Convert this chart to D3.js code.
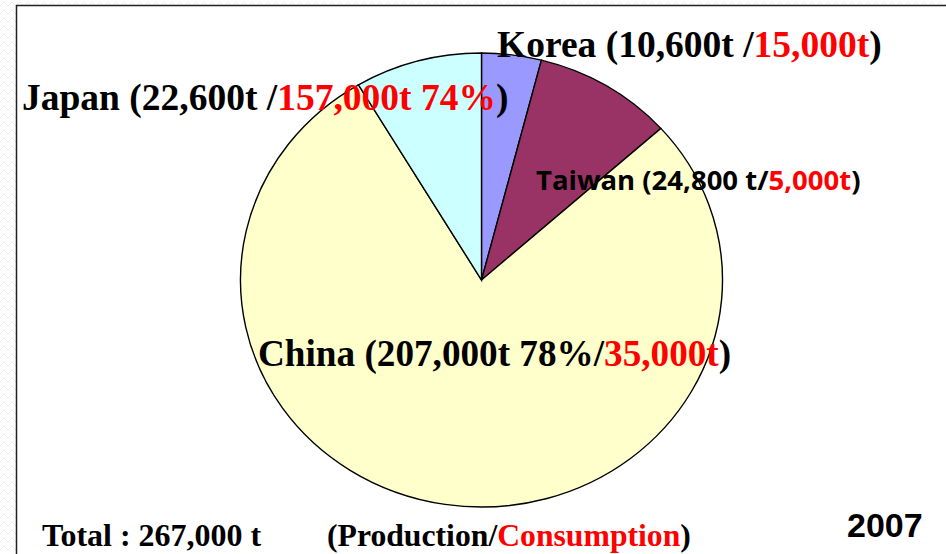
<!DOCTYPE html>
<html>
<head>
<meta charset="utf-8">
<script src="https://cdn.jsdelivr.net/npm/d3@7"></script>
<style>
  html, body { margin: 0; padding: 0; background: #fff; }
  svg { display: block; }
</style>
</head>
<body>
<svg id="chart" width="946" height="554"></svg>
<script>
// Production and consumption by country, 2007 (tonnes)
const countries   = ["Korea", "Taiwan", "China", "Japan"];
const production  = [10600, 24800, 207000, 22600];
const consumption = [15000, 5000, 35000, 157000];
const prodSuffix  = ["t /", " t/", "t 78%/", "t /"];
const consSuffix  = ["t", "t", "t", "t 74%"];
const colors      = ["#9999FF", "#993366", "#FFFFCC", "#CCFFFF"];
const totalLabel  = "Total : 267,000 t";
const yearLabel   = "2007";

const W = 946, H = 554;
const svg = d3.select("#chart");
const fmt = d3.format(",");

// faint zigzag texture outside the frame
const defs = svg.append("defs");
const pat = defs.append("pattern")
  .attr("id", "zig").attr("width", 8).attr("height", 8)
  .attr("patternUnits", "userSpaceOnUse");
pat.append("path").attr("d", "M0,6 L4,2 L8,6")
  .attr("fill", "none").attr("stroke", "#ececec").attr("stroke-width", 1);
svg.append("rect").attr("x", 0).attr("y", 0).attr("width", 16).attr("height", H).attr("fill", "url(#zig)");
svg.append("rect").attr("x", 16).attr("y", 0).attr("width", W - 16).attr("height", 5).attr("fill", "url(#zig)");

// frame lines
svg.append("line").attr("x1", 16.5).attr("x2", 16.5).attr("y1", 5).attr("y2", H)
  .attr("stroke", "#222").attr("stroke-width", 1.5);
svg.append("line").attr("x1", 16).attr("x2", W).attr("y1", 5.5).attr("y2", 5.5)
  .attr("stroke", "#222").attr("stroke-width", 1.5);

// pie (slightly wider than tall)
const cx = 481.5, cy = 280, rx = 241, ry = 227;
const data = countries.map((c, i) => ({ country: c, production: production[i], consumption: consumption[i], color: colors[i] }));
const pie = d3.pie().sort(null).value(d => d.production).startAngle(0).endAngle(2 * Math.PI);
const arc = d3.arc().innerRadius(0).outerRadius(ry);

const g = svg.append("g").attr("transform", `translate(${cx},${cy}) scale(${rx / ry},1)`);
g.selectAll("path").data(pie(data)).join("path")
  .attr("d", arc)
  .attr("fill", d => d.data.color)
  .attr("stroke", "#000")
  .attr("stroke-width", 1.4)
  .attr("vector-effect", "non-scaling-stroke");

// slice labels
const serif = "'Liberation Serif', 'Times New Roman', serif";
const labelPos = {
  Korea:  { x: 497, y: 57,  font: serif, size: 37.5 },
  Taiwan: { x: 536, y: 190, font: "'Open Sans', 'Noto Sans', sans-serif", size: 27.5 },
  China:  { x: 258, y: 366, font: serif, size: 37.2 },
  Japan:  { x: 22,  y: 110, font: serif, size: 37.5 }
};

data.forEach((d, i) => {
  const p = labelPos[d.country];
  const t = svg.append("text")
    .attr("x", p.x).attr("y", p.y)
    .attr("font-family", p.font).attr("font-size", p.size).attr("font-weight", "bold");
  t.append("tspan").attr("fill", "#000").text(`${d.country} (${fmt(d.production)}${prodSuffix[i]}`);
  t.append("tspan").attr("fill", "#FF0000").text(`${fmt(d.consumption)}${consSuffix[i]}`);
  t.append("tspan").attr("fill", "#000").text(")");
});

// footer
svg.append("text").attr("x", 42).attr("y", 546)
  .attr("font-family", serif).attr("font-size", 32).attr("font-weight", "bold")
  .attr("fill", "#000").text(totalLabel);

const legend = svg.append("text").attr("x", 327).attr("y", 546)
  .attr("font-family", serif).attr("font-size", 31.7).attr("font-weight", "bold");
legend.append("tspan").attr("fill", "#000").text("(Production/");
legend.append("tspan").attr("fill", "#FF0000").text("Consumption");
legend.append("tspan").attr("fill", "#000").text(")");

svg.append("text").attr("x", 847).attr("y", 537)
  .attr("font-family", "'Liberation Sans', Arial, sans-serif").attr("font-size", 34).attr("font-weight", "bold")
  .attr("fill", "#000").text(yearLabel);
</script>
</body>
</html>
